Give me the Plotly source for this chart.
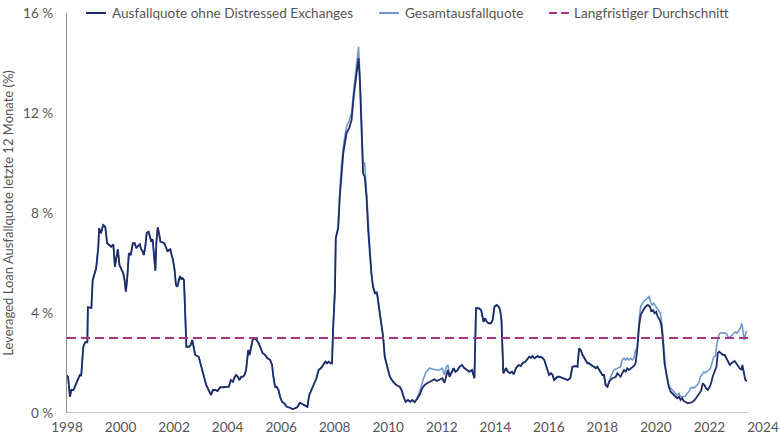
import plotly.graph_objects as go

# --- Data (decimal years, % values) ---
dark_years = [
    1998.00, 1998.04, 1998.11, 1998.16, 1998.24, 1998.32, 1998.41, 1998.48, 1998.53, 1998.61,
    1998.68, 1998.76, 1998.78, 1998.91, 1998.96, 1999.04, 1999.09, 1999.17, 1999.20, 1999.27,
    1999.32, 1999.35, 1999.43, 1999.50, 1999.58, 1999.65, 1999.73, 1999.79, 1999.85, 1999.90,
    1999.96, 2000.02, 2000.10, 2000.15, 2000.20, 2000.25, 2000.31, 2000.38, 2000.46, 2000.53,
    2000.59, 2000.66, 2000.72, 2000.77, 2000.83, 2000.87, 2000.93, 2000.98, 2001.05, 2001.10,
    2001.15, 2001.20, 2001.25, 2001.30, 2001.34, 2001.39, 2001.45, 2001.49, 2001.56, 2001.63,
    2001.69, 2001.76, 2001.81, 2001.86, 2001.91, 2001.96, 2002.02, 2002.07, 2002.12, 2002.17,
    2002.22, 2002.27, 2002.32, 2002.37, 2002.46, 2002.56, 2002.62, 2002.68, 2002.79, 2002.92,
    2003.00, 2003.10, 2003.20, 2003.29, 2003.38, 2003.45, 2003.54, 2003.62, 2003.72, 2003.85,
    2003.97, 2004.05, 2004.12, 2004.20, 2004.26, 2004.32, 2004.38, 2004.44, 2004.51, 2004.57,
    2004.63, 2004.69, 2004.77, 2004.82, 2004.87, 2004.94, 2005.00, 2005.09, 2005.16, 2005.25,
    2005.31, 2005.40, 2005.49, 2005.59, 2005.66, 2005.71, 2005.77, 2005.83, 2005.90, 2005.96,
    2006.03, 2006.11, 2006.21, 2006.33, 2006.43, 2006.52, 2006.60, 2006.70, 2006.79, 2006.89,
    2006.98, 2007.05, 2007.14, 2007.22, 2007.32, 2007.40, 2007.48, 2007.57, 2007.65, 2007.71,
    2007.77, 2007.85, 2007.90, 2007.94, 2008.01, 2008.04, 2008.13, 2008.19, 2008.25, 2008.32,
    2008.38, 2008.44, 2008.54, 2008.63, 2008.71, 2008.79, 2008.86, 2008.89, 2008.94, 2009.00,
    2009.06, 2009.12, 2009.19, 2009.25, 2009.31, 2009.37, 2009.43, 2009.50, 2009.58, 2009.66,
    2009.74, 2009.81, 2009.87, 2009.96, 2010.06, 2010.18, 2010.30, 2010.43, 2010.50, 2010.55,
    2010.65, 2010.74, 2010.82, 2010.90, 2010.99, 2011.07, 2011.17, 2011.27, 2011.36, 2011.45,
    2011.54, 2011.64, 2011.73, 2011.82, 2011.92, 2012.02, 2012.10, 2012.17, 2012.23, 2012.29,
    2012.36, 2012.44, 2012.51, 2012.60, 2012.66, 2012.75, 2012.85, 2012.94, 2013.03, 2013.13,
    2013.22, 2013.28, 2013.38, 2013.47, 2013.56, 2013.62, 2013.68, 2013.75, 2013.84, 2013.90,
    2013.97, 2014.05, 2014.13, 2014.18, 2014.23, 2014.30, 2014.40, 2014.47, 2014.55, 2014.62,
    2014.69, 2014.77, 2014.87, 2014.95, 2015.02, 2015.12, 2015.21, 2015.27, 2015.33, 2015.39,
    2015.46, 2015.52, 2015.58, 2015.64, 2015.70, 2015.77, 2015.83, 2015.89, 2015.95, 2016.01,
    2016.08, 2016.14, 2016.20, 2016.26, 2016.32, 2016.39, 2016.45, 2016.57, 2016.70, 2016.80,
    2016.88, 2017.01, 2017.07, 2017.13, 2017.19, 2017.26, 2017.32, 2017.38, 2017.44, 2017.50,
    2017.57, 2017.63, 2017.69, 2017.75, 2017.81, 2017.88, 2017.94, 2018.00, 2018.06, 2018.12,
    2018.19, 2018.25, 2018.31, 2018.37, 2018.43, 2018.50, 2018.56, 2018.62, 2018.68, 2018.74,
    2018.81, 2018.87, 2018.93, 2018.99, 2019.06, 2019.12, 2019.18, 2019.24, 2019.30, 2019.37,
    2019.43, 2019.53, 2019.61, 2019.70, 2019.78, 2019.83, 2019.89, 2019.95, 2020.01, 2020.07,
    2020.15, 2020.20, 2020.25, 2020.32, 2020.40, 2020.48, 2020.55, 2020.61, 2020.67, 2020.73,
    2020.79, 2020.86, 2020.92, 2020.98, 2021.04, 2021.13, 2021.20, 2021.29, 2021.38, 2021.45,
    2021.54, 2021.61, 2021.69, 2021.75, 2021.81, 2021.87, 2021.94, 2022.01, 2022.06, 2022.12,
    2022.20, 2022.26, 2022.31, 2022.36, 2022.43, 2022.51, 2022.57, 2022.63, 2022.69, 2022.76,
    2022.82, 2022.88, 2022.94, 2023.00, 2023.07, 2023.13, 2023.19, 2023.23, 2023.28, 2023.34,
    2023.40,
]
dark_vals = [
    1.50, 1.45, 0.65, 0.92, 0.92, 1.12, 1.32, 1.52, 1.50, 2.65,
    2.83, 2.83, 4.23, 4.20, 5.32, 5.65, 5.79, 6.65, 7.39, 7.19,
    7.39, 7.52, 7.45, 6.79, 6.72, 6.65, 6.75, 5.85, 6.25, 6.55,
    5.92, 5.79, 5.59, 5.32, 4.85, 5.39, 6.39, 6.32, 6.79, 6.79,
    6.59, 6.69, 6.75, 6.55, 6.45, 6.32, 6.69, 7.21, 7.25, 7.05,
    6.85, 6.95, 6.39, 5.69, 6.85, 7.43, 7.12, 6.85, 6.83, 6.79,
    6.65, 6.45, 6.52, 6.55, 6.32, 6.12, 5.72, 5.12, 5.05, 5.32,
    5.48, 5.36, 5.39, 5.32, 2.65, 2.65, 2.72, 2.92, 2.32, 2.25,
    1.92, 1.52, 1.12, 0.92, 0.72, 0.92, 0.92, 0.88, 1.03, 1.03,
    1.03, 1.05, 1.32, 1.25, 1.43, 1.52, 1.45, 1.32, 1.45, 1.45,
    1.52, 1.72, 2.52, 2.32, 2.59, 2.95, 2.99, 2.92, 2.79, 2.59,
    2.39, 2.32, 2.19, 2.12, 1.92, 1.45, 1.05, 1.05, 0.92, 0.65,
    0.45, 0.39, 0.25, 0.21, 0.16, 0.19, 0.23, 0.41, 0.36, 0.28,
    0.25, 0.72, 0.95, 1.16, 1.39, 1.72, 1.79, 1.92, 2.05, 1.99,
    2.05, 1.99, 1.99, 3.32, 4.92, 6.99, 7.39, 8.65, 9.59, 10.39,
    10.79, 11.19, 11.39, 11.72, 12.65, 13.32, 13.90, 14.20, 13.32, 11.32,
    9.59, 9.45, 8.65, 7.32, 6.25, 5.59, 5.05, 4.79, 4.79, 4.25,
    3.59, 3.05, 2.25, 1.85, 1.45, 1.25, 1.12, 1.05, 0.92, 0.72,
    0.45, 0.52, 0.45, 0.52, 0.43, 0.55, 0.72, 0.99, 1.12, 1.19,
    1.25, 1.32, 1.35, 1.28, 1.32, 1.39, 1.21, 1.45, 1.72, 1.45,
    1.59, 1.79, 1.65, 1.72, 1.85, 1.92, 1.79, 1.72, 1.65, 1.72,
    1.39, 4.19, 4.19, 4.12, 3.65, 3.79, 3.65, 3.59, 3.59, 3.72,
    4.25, 4.32, 4.25, 4.12, 3.72, 1.59, 1.79, 1.65, 1.59, 1.65,
    1.55, 1.79, 1.92, 1.88, 1.99, 2.05, 2.19, 2.25, 2.21, 2.28,
    2.19, 2.25, 2.28, 2.23, 2.25, 2.19, 2.12, 1.92, 1.72, 1.52,
    1.59, 1.52, 1.32, 1.39, 1.45, 1.45, 1.43, 1.39, 1.32, 1.39,
    1.85, 1.88, 1.85, 2.59, 2.52, 2.32, 2.19, 2.09, 1.99, 1.99,
    1.92, 1.88, 1.85, 1.79, 1.85, 1.72, 1.65, 1.52, 1.52, 1.12,
    1.05, 1.25, 1.32, 1.39, 1.41, 1.45, 1.59, 1.52, 1.45, 1.59,
    1.72, 1.65, 1.79, 1.72, 1.79, 1.85, 1.88, 1.99, 2.52, 3.45,
    3.92, 4.12, 4.25, 4.32, 4.25, 4.05, 4.12, 3.99, 4.05, 3.85,
    3.72, 3.52, 3.05, 1.99, 1.45, 1.05, 0.85, 0.79, 0.75, 0.68,
    0.59, 0.65, 0.52, 0.59, 0.48, 0.43, 0.39, 0.41, 0.45, 0.52,
    0.65, 0.79, 0.89, 1.19, 1.12, 0.99, 0.92, 1.05, 1.19, 1.45,
    1.72, 1.85, 2.39, 2.45, 2.39, 2.32, 2.32, 2.19, 2.12, 1.92,
    1.99, 2.05, 2.08, 1.99, 1.85, 1.79, 1.72, 1.92, 1.65, 1.32,
    1.28,
]

# Gesamtausfallquote: where it visibly departs from the dark line
total_years = [
    2007.94, 2008.01, 2008.04, 2008.13, 2008.19, 2008.25, 2008.32, 2008.38, 2008.44, 2008.54,
    2008.63, 2008.71, 2008.79, 2008.89, 2008.94, 2009.00, 2009.06, 2009.12, 2009.19, 2009.25,
    2009.31, 2009.37, 2009.43, 2009.50, 2009.58, 2009.66,
    2011.07, 2011.17, 2011.30, 2011.42, 2011.54, 2011.67, 2011.79, 2011.92, 2012.02, 2012.10,
    2012.17, 2012.23, 2012.29,
    2018.31, 2018.43, 2018.56, 2018.68, 2018.74, 2018.81, 2018.87, 2018.93, 2018.99, 2019.06,
    2019.12, 2019.18, 2019.24, 2019.30, 2019.37, 2019.43, 2019.53, 2019.61, 2019.70, 2019.75,
    2019.80, 2019.86, 2019.92, 2019.99, 2020.05, 2020.11, 2020.17, 2020.24, 2020.30, 2020.36,
    2020.42, 2020.48, 2020.55, 2020.61, 2020.67, 2020.73, 2020.79, 2020.86, 2020.92, 2021.04,
    2021.10, 2021.17, 2021.23, 2021.29, 2021.35, 2021.41, 2021.48, 2021.54, 2021.60, 2021.66,
    2021.73, 2021.79, 2021.85, 2021.91, 2021.97, 2022.04, 2022.10, 2022.16, 2022.22, 2022.28,
    2022.35, 2022.41, 2022.47, 2022.53, 2022.59, 2022.66, 2022.72, 2022.78, 2022.84, 2022.90,
    2022.97, 2023.03, 2023.09, 2023.15, 2023.21, 2023.28, 2023.30, 2023.37, 2023.40,
]
total_vals = [
    3.40, 5.00, 7.00, 7.45, 8.80, 9.90, 10.65, 11.00, 11.45, 11.70,
    12.00, 12.90, 13.60, 14.65, 13.60, 11.50, 10.00, 10.00, 8.80, 7.40,
    6.30, 5.65, 5.10, 4.85, 4.85, 4.30,
    0.59, 0.85, 1.32, 1.65, 1.79, 1.75, 1.72, 1.72, 1.79, 1.52,
    1.85, 1.92, 1.52,
    1.45, 1.72, 1.79, 1.85, 2.12, 2.19, 2.12, 2.19, 2.12, 2.19,
    2.12, 2.19, 2.52, 2.59, 3.72, 4.25, 4.45, 4.52, 4.59, 4.65,
    4.45, 4.32, 4.39, 4.29, 4.19, 4.12, 3.99, 3.39, 2.39, 1.79,
    1.39, 1.12, 0.99, 0.92, 0.85, 0.79, 0.72, 0.79, 0.65, 0.65,
    0.68, 0.79, 0.85, 0.99, 1.03, 0.99, 1.05, 1.12, 1.19, 1.45,
    1.59, 1.65, 1.61, 1.65, 1.72, 1.79, 1.99, 2.25, 2.28, 2.79,
    3.12, 3.21, 3.21, 3.19, 3.21, 3.12, 2.99, 3.05, 3.12, 3.19,
    3.25, 3.19, 3.32, 3.39, 3.59, 3.19, 2.92, 3.25, 3.28,
]
# windows in which the two series differ
total_windows = [(2007.92, 2009.70), (2011.02, 2012.33), (2018.28, 2023.5)]

avg_years = [1998.0, 2023.45]
avg_vals = [3.0, 3.0]

x_ticks = [1998, 2000, 2002, 2004, 2006, 2008, 2010, 2012, 2014, 2016, 2018, 2020, 2022, 2024]
y_ticks = [0, 4, 8, 12, 16]
y_ticktext = ["0 %", "4 %", "8 %", "12 %", "16 %"]

legend_names = ["Ausfallquote ohne Distressed Exchanges", "Gesamtausfallquote",
                "Langfristiger Durchschnitt"]

# --- Build full total series: same as dark outside the divergence windows ---
def in_window(t):
    return any(a <= t <= b for a, b in total_windows)

pairs = [(t, v) for t, v in zip(dark_years, dark_vals) if not in_window(t)]
pairs += list(zip(total_years, total_vals))
pairs.sort()
tot_x = [p[0] for p in pairs]
tot_y = [p[1] for p in pairs]

DARK = "#1e2c68"
LIGHT = "#7099cf"
MAG = "#a6358a"
TXT = "#555555"
AXC = "#8a8a8a"
FONT = "Lato, 'Open Sans', sans-serif"
FS = 13.6

fig = go.Figure()
fig.add_trace(go.Scatter(x=tot_x, y=tot_y, mode="lines", name=legend_names[1],
                         line=dict(color=LIGHT, width=1.6), showlegend=False))
fig.add_trace(go.Scatter(x=dark_years, y=dark_vals, mode="lines", name=legend_names[0],
                         line=dict(color=DARK, width=1.8), showlegend=False))
fig.add_trace(go.Scatter(x=avg_years, y=avg_vals, mode="lines", name=legend_names[2],
                         line=dict(color=MAG, width=2, dash="9px,5px"), showlegend=False))

# plot area geometry (pixels)
L, R, T, B = 67, 763, 13, 413
W, H = R - L, B - T

def px(xp):
    return (xp - L) / W

def py(yp):
    return (B - yp) / H

shapes = [
    # x baseline
    dict(type="line", xref="x", yref="y", x0=1998, x1=2023.45, y0=0, y1=0,
         line=dict(color=AXC, width=1.2), layer="below"),
    # legend symbols
    dict(type="line", xref="paper", yref="paper", x0=px(86), x1=px(106), y0=py(13), y1=py(13),
         line=dict(color=DARK, width=2)),
    dict(type="line", xref="paper", yref="paper", x0=px(379), x1=px(399), y0=py(13), y1=py(13),
         line=dict(color=LIGHT, width=2)),
    dict(type="line", xref="paper", yref="paper", x0=px(549), x1=px(569), y0=py(13), y1=py(13),
         line=dict(color=MAG, width=2, dash="8px,4px")),
]
annotations = [
    dict(xref="paper", yref="paper", x=px(110), y=py(13), text=legend_names[0],
         xanchor="left", yanchor="middle", showarrow=False, font=dict(size=FS, color=TXT)),
    dict(xref="paper", yref="paper", x=px(403), y=py(13), text=legend_names[1],
         xanchor="left", yanchor="middle", showarrow=False, font=dict(size=FS, color=TXT)),
    dict(xref="paper", yref="paper", x=px(572), y=py(13), text=legend_names[2],
         xanchor="left", yanchor="middle", showarrow=False, font=dict(size=FS, color=TXT)),
]

fig.update_layout(
    width=780, height=440,
    margin=dict(l=L, r=780 - R, t=T, b=440 - B, pad=0, autoexpand=False),
    paper_bgcolor="white", plot_bgcolor="white",
    font=dict(family=FONT, size=FS, color=TXT),
    shapes=shapes, annotations=annotations,
    showlegend=False,
)
fig.update_xaxes(range=[1998, 2024], tickvals=x_ticks, ticktext=[str(t) for t in x_ticks],
                 showgrid=False, zeroline=False, showline=False, ticks="", automargin=False,
                 ticklabeloverflow="allow",
                 tickfont=dict(size=FS, color=TXT), ticklabelstandoff=4)
fig.update_yaxes(range=[0, 16], tickvals=y_ticks, ticktext=y_ticktext, automargin=False,
                 ticklabeloverflow="allow",
                 showgrid=False, zeroline=False, showline=True, linecolor=AXC, linewidth=1.2,
                 ticks="", tickfont=dict(size=FS, color=TXT), ticklabelstandoff=10,
                 title=dict(text="Leveraged Loan Ausfallquote letzte 12 Monate (%)",
                            font=dict(size=13, color=TXT), standoff=6))

fig.write_html("out.html")
